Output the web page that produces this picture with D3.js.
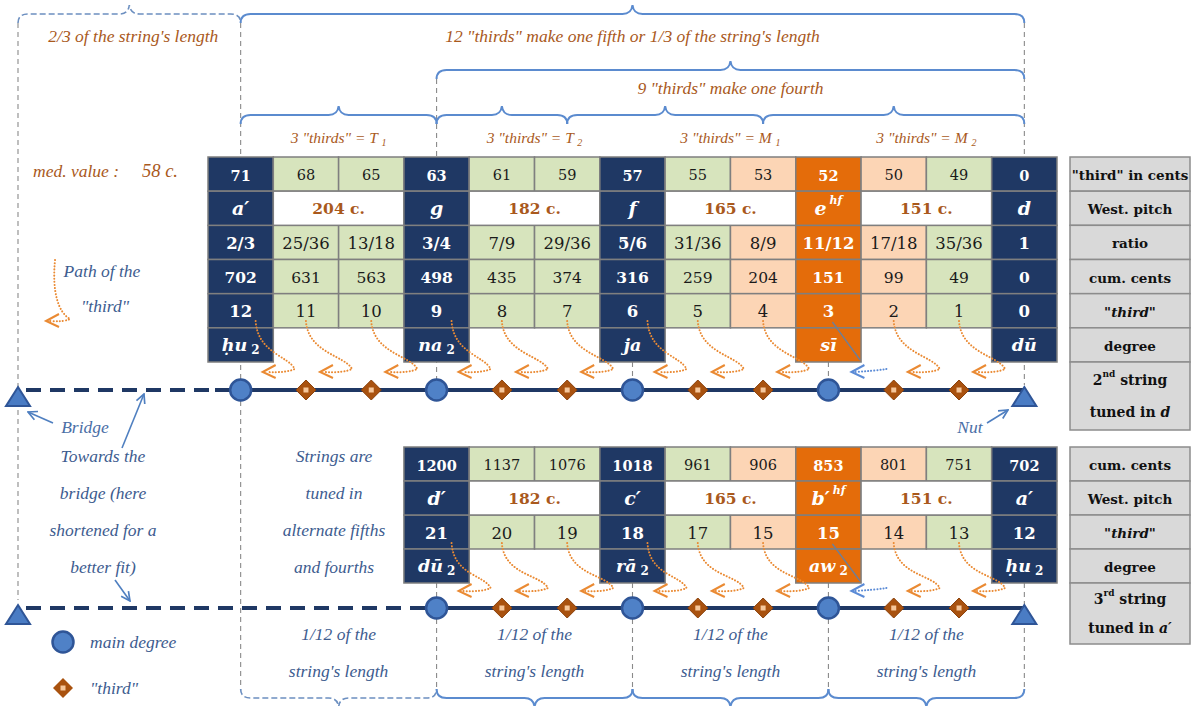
<!DOCTYPE html>
<html><head><meta charset="utf-8">
<script src="https://cdn.jsdelivr.net/npm/d3@7"></script>
<style>body{margin:0;background:#fff}svg{display:block}</style>
</head><body>
<svg id="c" width="1192" height="706"></svg>
<script>
// ---------- data ----------
const thirdCents2 = [71,68,65,63,61,59,57,55,53,52,50,49,0];
const ratios2 = ["2/3","25/36","13/18","3/4","7/9","29/36","5/6","31/36","8/9","11/12","17/18","35/36","1"];
const cumCents2 = [702,631,563,498,435,374,316,259,204,151,99,49,0];
const thirdNo2 = [12,11,10,9,8,7,6,5,4,3,2,1,0];
const cellKind = ["main","green","green","main","green","green","main","green","peach","orange","peach","green","main"];
const pitches2 = ["a′","g","f","e|hf","d"];
const intervals2 = ["204 c.","182 c.","165 c.","151 c."];
const degrees2 = ["ḥu|2","na|2","ja","sī","dū"];

const cumCents3 = [1200,1137,1076,1018,961,906,853,801,751,702];
const thirdNo3 = [21,20,19,18,17,15,15,14,13,12];
const pitches3 = ["d′","c′","b′|hf","a′"];
const intervals3 = ["182 c.","165 c.","151 c."];
const degrees3 = ["dū|2","rā|2","aw|2","ḥu|2"];

const panel2 = ['"third" in cents',"West. pitch","ratio","cum. cents","*\"third\"","degree"];
const panel3 = ["cum. cents","West. pitch","*\"third\"","degree"];
const braceTexts = ["2/3 of the string's length",'12 "thirds" make one fifth or 1/3 of the string\'s length','9 "thirds" make one fourth'];
const groupNames = [["T","1"],["T","2"],["M","1"],["M","2"]];
const leftNotes = ["Towards the","bridge (here","shortened for a","better fit)"];
const midNotes = ["Strings are","tuned in","alternate fifths","and fourths"];

// ---------- styles ----------
const C = {main:"#1f3864", green:"#d7e4bd", peach:"#fcd5b5", orange:"#e46c0a", grid:"#7f7f7f",
  brown:"#a9591c", blueText:"#3d5c8f", brace:"#5b8bcf", orangeArrow:"#ea8a33", blueArrow:"#5b8bd6"};
const SERIF = "'DejaVu Serif', serif";
const ITAL = "'Liberation Serif', serif";

const svg = d3.select("#c");
const x = d3.scaleBand().domain(d3.range(13)).range([208,1057]);
const bw = x.bandwidth();
const cx = i => x(i) + bw/2;
const yU = d3.scaleBand().domain(["cents","pitch","ratio","cum","third","degree"]).range([157,362]);
const yL = d3.scaleBand().domain(["cum","pitch","third","degree"]).range([447,583]);
const strY2 = 390, strY3 = 608, bridgeX = 18;
const isPitchCol = i => cellKind[i]==="main" || cellKind[i]==="orange";

// ---------- thin dashed guide lines ----------
const guides = svg.append("g").attr("stroke","#8a8a8a").attr("stroke-width",1.1).attr("stroke-dasharray","5,4");
function vline(xx,y1,y2){guides.append("line").attr("x1",xx).attr("x2",xx).attr("y1",y1).attr("y2",y2);}
vline(bridgeX,23,600);
vline(cx(0),23,690);
vline(cx(3),79,380); vline(cx(3),583,690);
vline(cx(6),362,380); vline(cx(6),583,690);
vline(cx(9),362,380); vline(cx(9),583,690);
vline(cx(12),23,385); vline(cx(12),583,690);

// ---------- braces ----------
function brace(xa,xb,y,dir,dashed){
  const tip=(xa+xb)/2, r=10, yE=y-dir*9, yT=y+dir*9;
  const d=`M${xa},${yE} Q${xa},${y} ${xa+r},${y} L${tip-r},${y} Q${tip-1},${y} ${tip},${yT} Q${tip+1},${y} ${tip+r},${y} L${xb-r},${y} Q${xb},${y} ${xb},${yE}`;
  svg.append("path").attr("d",d).attr("fill","none").attr("stroke",dashed?"#6c8fc0":C.brace)
    .attr("stroke-width",dashed?1.6:2).attr("stroke-dasharray",dashed?"6,3":null);
}
brace(bridgeX,cx(0),14,-1,true);
brace(cx(0),cx(12),14,-1,false);
brace(cx(3),cx(12),70,-1,false);
[[0,3],[3,5],[5,8],[8,12]].forEach(p=>brace(cx(p[0]),cx(p[1]),115,-1,false));
brace(cx(0),cx(3),698,1,true);
[[3,6],[6,9],[9,12]].forEach(p=>brace(cx(p[0]),cx(p[1]),698,1,false));

function itext(t,xx,y,size,color,anchor){
  return svg.append("text").attr("x",xx).attr("y",y).attr("text-anchor",anchor||"middle")
    .attr("font-family",ITAL).attr("font-style","italic").attr("font-size",size).attr("fill",color).text(t);
}
itext(braceTexts[0],(bridgeX+cx(0))/2+4,42,17.5,C.brown);
itext(braceTexts[1],(cx(0)+cx(12))/2,42,17.5,C.brown);
itext(braceTexts[2],(cx(3)+cx(12))/2,94,17.5,C.brown);
groupNames.forEach((g,k)=>{
  const t=svg.append("text").attr("x",(cx(3*k)+cx(3*k+3))/2).attr("y",143).attr("text-anchor","middle")
    .attr("font-family",ITAL).attr("font-style","italic").attr("font-size",15.5).attr("fill",C.brown);
  t.append("tspan").text(`3 "thirds"  =  ${g[0]} `);
  t.append("tspan").attr("font-size",10).attr("dy",3).text(g[1]);
});

// ---------- tables ----------
function txtCol(k){return (k==="main"||k==="orange")?"#ffffff":"#1a1a1a";}
function cell(g,xx,y,w,h,fill){
  g.append("rect").attr("x",xx).attr("y",y).attr("width",w).attr("height",h)
   .attr("fill",fill).attr("stroke",C.grid).attr("stroke-width",1.5);
}
function ctext(g,t,xx,y,size,color,bold,ital){
  return g.append("text").attr("x",xx).attr("y",y).attr("text-anchor","middle").attr("dominant-baseline","central")
    .attr("font-family",SERIF).attr("font-size",size).attr("fill",color)
    .attr("font-weight",bold?"bold":"normal").attr("font-style",ital?"italic":"normal").text(t);
}
function pitchText(g,label,xx,y){
  const [b,sup]=label.split("|");
  const t=g.append("text").attr("x",xx).attr("y",y).attr("text-anchor","middle").attr("dominant-baseline","central")
    .attr("font-family",SERIF).attr("font-size",19).attr("font-weight","bold").attr("font-style","italic").attr("fill","#fff");
  t.append("tspan").text(b);
  if(sup) t.append("tspan").attr("font-size",11).attr("dy",-8).attr("dx",3).text(sup);
}
function degText(g,label,xx,y){
  const [b,sub]=label.split("|");
  const t=g.append("text").attr("x",xx).attr("y",y).attr("text-anchor","middle").attr("dominant-baseline","central")
    .attr("font-family",SERIF).attr("font-size",17.5).attr("font-weight","bold").attr("font-style","italic").attr("fill","#fff");
  t.append("tspan").text(b);
  if(sub) t.append("tspan").attr("font-size",12).attr("dy",5).attr("dx",4).attr("font-style","normal").text(sub);
}

function drawTable(cols,yS,rowsNum,pitches,intervals,degrees){
  const g=svg.append("g"), bh=yS.bandwidth();
  rowsNum.forEach(([row,vals,size])=>{
    cols.forEach((c,j)=>{
      const k=cellKind[c];
      cell(g,x(c),yS(row),bw,bh,C[k]);
      const isW=(k==="main"||k==="orange");
      ctext(g,vals[j],cx(c),yS(row)+bh/2+1,size,txtCol(k),isW,false);
    });
  });
  const pc=cols.filter(isPitchCol);
  pc.forEach((c,j)=>{
    cell(g,x(c),yS("pitch"),bw,bh,C[cellKind[c]]);
    pitchText(g,pitches[j],cx(c),yS("pitch")+bh/2);
    if(j<pc.length-1){
      cell(g,x(c+1),yS("pitch"),bw*2,bh,"#ffffff");
      ctext(g,intervals[j],x(c+1)+bw,yS("pitch")+bh/2,15.5,C.brown,true,false);
    }
    cell(g,x(c),yS("degree"),bw,bh,C[cellKind[c]]);
    degText(g,degrees[j],cx(c),yS("degree")+bh/2);
  });
}
drawTable(d3.range(13),yU,[["cents",thirdCents2,14.5],["ratio",ratios2,16.5],["cum",cumCents2,15.5],["third",thirdNo2,16.5]],pitches2,intervals2,degrees2);
drawTable(d3.range(3,13),yL,[["cum",cumCents3,14.5],["third",thirdNo3,16.5]],pitches3,intervals3,degrees3);

// ---------- right-hand labels ----------
const px0=1070, pw=120;
function panelCell(t,y,h){
  svg.append("rect").attr("x",px0).attr("y",y).attr("width",pw).attr("height",h)
    .attr("fill","#d9d9d9").attr("stroke","#8c8c8c").attr("stroke-width",1.5);
  const it=t.startsWith("*");
  svg.append("text").attr("x",px0+pw/2).attr("y",y+h/2+1).attr("text-anchor","middle").attr("dominant-baseline","central")
    .attr("font-family",SERIF).attr("font-size",13.5).attr("font-weight","bold").attr("font-style",it?"italic":"normal")
    .attr("fill","#111").text(it?t.slice(1):t);
}
panel2.forEach((t,i)=>panelCell(t,yU(yU.domain()[i]),yU.bandwidth()));
panel3.forEach((t,i)=>panelCell(t,yL(yL.domain()[i]),yL.bandwidth()));
function stringCell(y,h,ord,sup,tail){
  svg.append("rect").attr("x",px0).attr("y",y).attr("width",pw).attr("height",h)
    .attr("fill","#d9d9d9").attr("stroke","#8c8c8c").attr("stroke-width",1.5);
  const t1=svg.append("text").attr("x",px0+pw/2).attr("y",y+h*0.27).attr("text-anchor","middle").attr("dominant-baseline","central")
    .attr("font-family",SERIF).attr("font-size",14).attr("font-weight","bold").attr("fill","#111");
  t1.append("tspan").text(ord); t1.append("tspan").attr("font-size",9).attr("dy",-6).text(sup);
  t1.append("tspan").attr("dy",6).text(" string");
  const t2=svg.append("text").attr("x",px0+pw/2).attr("y",y+h*0.74).attr("text-anchor","middle").attr("dominant-baseline","central")
    .attr("font-family",SERIF).attr("font-size",14).attr("font-weight","bold").attr("fill","#111");
  t2.append("tspan").text("tuned in "); t2.append("tspan").attr("font-style","italic").text(tail);
}
stringCell(362,68,"2","nd","d");
stringCell(583,61,"3","rd","a′");

// ---------- arrows ("path of the third") ----------
function dotted(d,color){
  svg.append("path").attr("d",d).attr("fill","none").attr("stroke",color).attr("stroke-width",2)
    .attr("stroke-dasharray","0.1,3").attr("stroke-linecap","round");
}
function chevron(tx,ty,color){
  svg.append("path").attr("d",`M${tx+13},${ty-7} L${tx},${ty} L${tx+13},${ty+6}`).attr("fill","none")
    .attr("stroke",color).attr("stroke-width",2);
}
function thirdArrow(c,ys,yt){
  const X=cx(c), main=cellKind[c]==="main";
  const sx=X+(main?15:0), ex=X+(main?54:46), tx=X+(main?22:14);
  dotted(`M${sx},${ys} C${sx+2},${ys+32} ${ex-6},${yt-16} ${ex},${yt-3} Q${ex-8},${yt+1} ${tx+4},${yt}`,C.orangeArrow);
  chevron(tx,yt,C.orangeArrow);
}
function blueArrow(c,ys,yt,yb){
  const X=cx(c);
  svg.append("line").attr("x1",X+4).attr("y1",ys+1).attr("x2",x(c)+bw-1).attr("y2",yb-2)
    .attr("stroke","#6d7f99").attr("stroke-width",1.3);
  dotted(`M${X+58},${yt-3} Q${X+45},${yt-1} ${X+26},${yt}`,C.blueArrow);
  chevron(X+23,yt,C.blueArrow);
}
d3.range(0,12).forEach(c=> cellKind[c]==="orange" ? blueArrow(c,321,372,362) : thirdArrow(c,321,372));
d3.range(3,12).forEach(c=> cellKind[c]==="orange" ? blueArrow(c,543,591,583) : thirdArrow(c,543,591));
dotted("M55,260 C52,292 58,312 70,319 Q64,322 50,321",C.orangeArrow);
chevron(46,321,C.orangeArrow);

// ---------- strings ----------
function drawString(y,startCol,solidFrom){
  svg.append("line").attr("x1",bridgeX+8).attr("x2",solidFrom).attr("y1",y).attr("y2",y)
    .attr("stroke",C.main).attr("stroke-width",4).attr("stroke-dasharray","15,9");
  svg.append("line").attr("x1",solidFrom).attr("x2",cx(12)).attr("y1",y).attr("y2",y)
    .attr("stroke",C.main).attr("stroke-width",4);
  [bridgeX,cx(12)].forEach(xx=>svg.append("path")
    .attr("d",`M${xx},${y-3} L${xx+12},${y+16} L${xx-12},${y+16} Z`)
    .attr("fill","#4a7cc4").attr("stroke","#2f5597").attr("stroke-width",2));
  d3.range(startCol,12).forEach(c=>{
    if(isPitchCol(c)){
      svg.append("circle").attr("cx",cx(c)).attr("cy",y).attr("r",10.5)
        .attr("fill","#4f81c7").attr("stroke","#2f5597").attr("stroke-width",2.5);
    } else {
      svg.append("path").attr("d",`M${cx(c)},${y-10} L${cx(c)+10},${y} L${cx(c)},${y+10} L${cx(c)-10},${y} Z`)
        .attr("fill","#a9520f").attr("stroke","#8a410b").attr("stroke-width",1);
      svg.append("rect").attr("x",cx(c)-2.5).attr("y",y-2.5).attr("width",5).attr("height",5).attr("fill","#f6c79b");
    }
  });
}
drawString(strY2,0,215);
drawString(strY3,3,412);

// ---------- annotations ----------
const mv=svg.append("text").attr("x",33).attr("y",177).attr("font-family",ITAL).attr("font-style","italic")
  .attr("font-size",17.5).attr("fill",C.brown);
mv.append("tspan").text("med. value :");
mv.append("tspan").attr("x",142).attr("font-size",18.5).text("58  c.");
itext("Path of the",102,277,17.5,C.blueText);
itext('"third"',105,312,17.5,C.blueText);
itext("Bridge",85,433,17.5,"#4a6ea6");
itext("Nut",970,433,17.5,"#4a6ea6");
leftNotes.forEach((t,i)=>itext(t,103,462+37*i,17.5,C.blueText));
midNotes.forEach((t,i)=>itext(t,334,462+37*i,17.5,C.blueText));
[0,3,6,9].forEach(c=>{
  itext("1/12 of the",(cx(c)+cx(c+3))/2,640,17.5,C.blueText);
  itext("string's length",(cx(c)+cx(c+3))/2,677,17.5,C.blueText);
});
svg.append("defs").append("marker").attr("id","ah").attr("viewBox","0 0 10 10").attr("refX",9).attr("refY",5)
  .attr("markerWidth",7).attr("markerHeight",7).attr("orient","auto")
  .append("path").attr("d","M1,1 L9,5 L1,9").attr("fill","none").attr("stroke","#4f7fc0").attr("stroke-width",1.5);
[[53,423,28,412],[122,448,144,394],[115,580,130,601],[987,423,1008,410]].forEach(a=>
  svg.append("line").attr("x1",a[0]).attr("y1",a[1]).attr("x2",a[2]).attr("y2",a[3])
    .attr("stroke","#4f7fc0").attr("stroke-width",1.6).attr("marker-end","url(#ah)"));
svg.append("circle").attr("cx",63).attr("cy",642).attr("r",10.5).attr("fill","#4f81c7").attr("stroke","#2f5597").attr("stroke-width",2.5);
svg.append("path").attr("d","M63,678 L73,688 L63,698 L53,688 Z").attr("fill","#a9520f");
svg.append("rect").attr("x",60.5).attr("y",685.5).attr("width",5).attr("height",5).attr("fill","#f6c79b");
itext("main degree",90,648,17.5,C.blueText,"start");
itext('"third"',90,694,17.5,C.blueText,"start");
</script>
</body></html>
